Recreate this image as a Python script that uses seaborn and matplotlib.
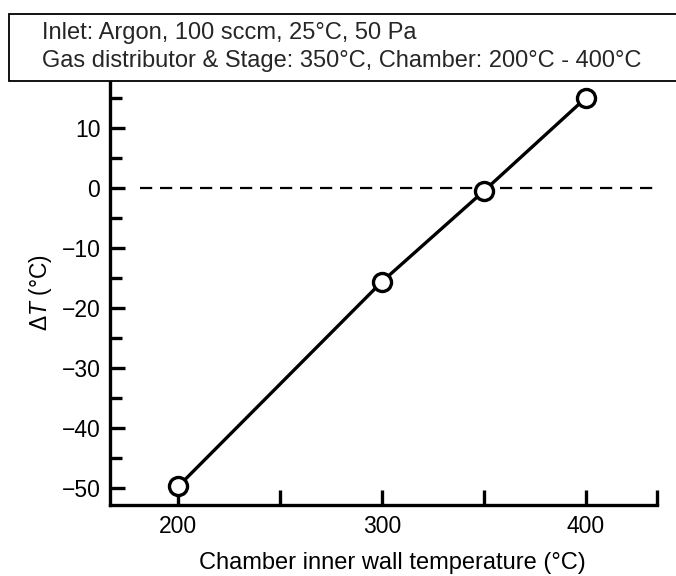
import matplotlib
matplotlib.use("Agg")
import matplotlib.pyplot as plt
import seaborn as sns
import pandas as pd
from matplotlib.patches import Rectangle
from matplotlib.ticker import MultipleLocator, FixedLocator

chamber_temp = [200, 300, 350, 400]
delta_t = [-49.7, -15.6, -0.5, 15.0]
x_ticks = [200, 300, 400]
y_ticks = [-50, -40, -30, -20, -10, 0, 10]
box_lines = ["Inlet: Argon, 100 sccm, 25°C, 50 Pa",
             "Gas distributor & Stage: 350°C, Chamber: 200°C - 400°C"]

sns.set_theme(style="ticks")
plt.rcParams['font.family'] = ['Liberation Sans', 'DejaVu Sans']
plt.rcParams['mathtext.fontset'] = 'custom'
plt.rcParams['mathtext.it'] = 'Liberation Sans:italic'
plt.rcParams['mathtext.rm'] = 'Liberation Sans'

df = pd.DataFrame({"x": chamber_temp, "y": delta_t})

W, H = 676, 576
fig = plt.figure(figsize=(W / 100, H / 100), dpi=100)
ax = fig.add_axes([110 / W, 1 - 505 / H, (657 - 110) / W, (505 - 80) / H])

ax.axhline(0, xmin=(181 - 166.5) / (435 - 166.5), xmax=(434 - 166.5) / (435 - 166.5),
           color="black", lw=1.6, ls=(0, (5.5, 3.5)), zorder=1)
sns.lineplot(data=df, x="x", y="y", ax=ax, color="black", lw=2.4,
             marker="o", markersize=13, markerfacecolor="white",
             markeredgecolor="black", markeredgewidth=2.4, zorder=3)

ax.set_xlim(166.5, 435)
ax.set_ylim(-52.8, 18)
ax.xaxis.set_major_locator(FixedLocator(x_ticks))
ax.xaxis.set_minor_locator(FixedLocator([250, 350, 435]))
ax.yaxis.set_major_locator(FixedLocator(y_ticks))
ax.yaxis.set_minor_locator(MultipleLocator(10, offset=5))
ax.set_yticklabels([f"{v}".replace("-", "\u2212") for v in y_ticks])

for side in ["top", "right"]:
    ax.spines[side].set_visible(False)
for side in ["left", "bottom"]:
    ax.spines[side].set_linewidth(2.4)
    ax.spines[side].set_color("black")

ax.tick_params(axis="both", which="both", direction="in", width=2.4, color="black",
               labelsize=16.5, labelcolor="black")
ax.tick_params(axis="y", which="major", length=11, pad=7)
ax.tick_params(axis="y", which="minor", length=8.5)
ax.tick_params(axis="x", which="both", length=11, pad=7)

ax.set_xlabel("Chamber inner wall temperature (°C)", fontsize=17, color="black")
ax.set_ylabel(r"$\Delta$$\it{T}$ (°C)", fontsize=16.5, color="black")
ax.xaxis.set_label_coords((392 - 110) / (657 - 110), -(563 - 505) / (505 - 80))
ax.xaxis.label.set_va("center")
ax.yaxis.set_label_coords(-(110 - 40) / (657 - 110), 0.5)
ax.yaxis.label.set_va("center")

rect = Rectangle((9 / W, 1 - 81 / H), 1.0, 67 / H, transform=fig.transFigure,
                 facecolor="white", edgecolor="black", lw=1.3, zorder=10)
fig.patches.append(rect)
fig.text(42 / W, 1 - 33 / H, box_lines[0], fontsize=17,
         va="center", ha="left", zorder=11)
fig.text(42 / W, 1 - 61 / H, box_lines[1], fontsize=17,
         va="center", ha="left", zorder=11)

fig.savefig("out.png", dpi=100)
